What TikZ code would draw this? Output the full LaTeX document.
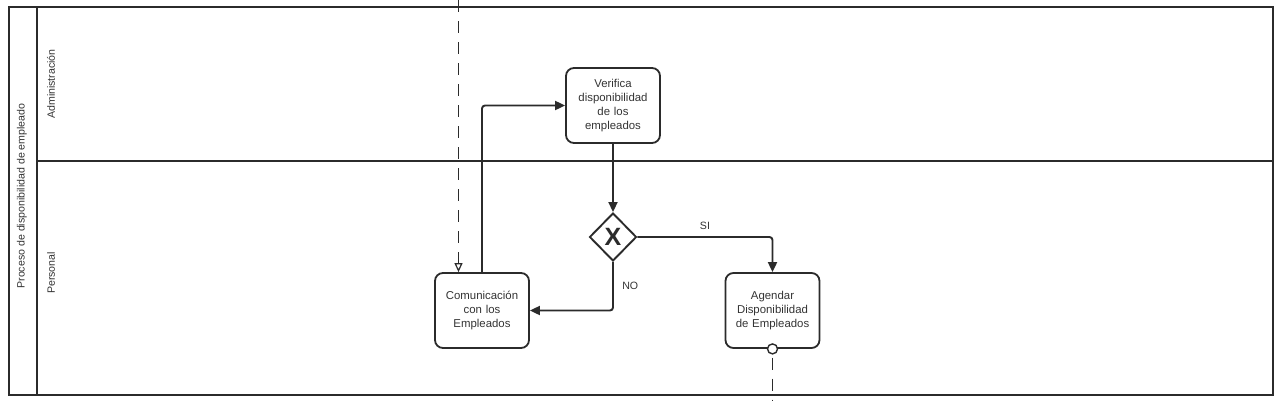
\documentclass[tikz,border=0pt]{standalone}
\usepackage{fontspec}
\setmainfont{Liberation Sans}
\usetikzlibrary{arrows.meta,shapes.geometric,calc}
\definecolor{ink}{HTML}{2B2B2B}
\definecolor{txt}{HTML}{333333}
\tikzset{
  task/.style={draw=ink, line width=1.8pt, rounded corners=8pt, minimum width=94pt, minimum height=75pt, text width=90pt, align=center, inner sep=0pt, text=txt, font=\fontsize{11.4}{14}\selectfont},
  flow/.style={draw=ink, line width=1.9pt, rounded corners=3pt, -{Triangle[length=10pt,width=9pt]}},
  msgline/.style={draw=ink, line width=1.4pt, dash pattern=on 12pt off 9pt},
  msg/.style={msgline, -{Triangle[open,length=9pt,width=8pt,line width=1.2pt]}},
  lane/.style={draw=ink, line width=1.5pt},
  lbl/.style={text=txt, font=\fontsize{10.6}{12}\selectfont},
}
\begin{document}
\begin{tikzpicture}[x=1pt,y=-1pt]
\useasboundingbox (0,0) rectangle (1280,400);
% pool and lanes
\draw[lane] (9,7) rectangle (1273,395);
\draw[lane] (37,7) -- (37,395);
\draw[lane] (37,161) -- (1273,161);
\node[lbl, rotate=90] (pool) at (22,196) {Proceso de disponibilidad de empleado};
\node[lbl, rotate=90] (ladm) at (51,84) {Administración};
\node[lbl, rotate=90] (lper) at (51,273) {Personal};
% tasks
\node[task] (verif) at (613,105.5) {Verifica\\disponibilidad\\de los\\empleados};
\node[task] (com) at (482,310.5) {Comunicación\\con los\\Empleados};
\node[task] (agen) at (772.5,310.5) {Agendar\\Disponibilidad\\de Empleados};
% gateway
\node[diamond, draw=ink, line width=1.9pt, fill=white, minimum width=47pt, minimum height=48pt, inner sep=0pt] (gw) at (613,237) {};
\node[text=ink, font=\fontsize{25}{25}\selectfont\bfseries] (gx) at (gw.center) {X};
% flows
\draw[flow] (verif.south) -- (gw.north);
\draw[flow] (gw.east) -| node[pos=0.25, above=3pt, lbl] (si) {SI} (agen.north);
\draw[flow] (gw.south) |- node[pos=0.25, right=5pt, lbl] (no) {NO} (com.east);
\draw[flow] (com.north) |- (verif.west);
% message flows
\coordinate (mtop) at (458.5,0);
\draw[msg] (mtop) -- (mtop |- com.north);
\node[circle, draw=ink, line width=1.4pt, fill=white, minimum size=10pt, inner sep=0pt] (ev) at (agen.south) {};
\coordinate (mbot) at (772.5,400);
\draw[msgline, dash phase=-3pt] (ev.south) -- (mbot);
\end{tikzpicture}
\end{document}
